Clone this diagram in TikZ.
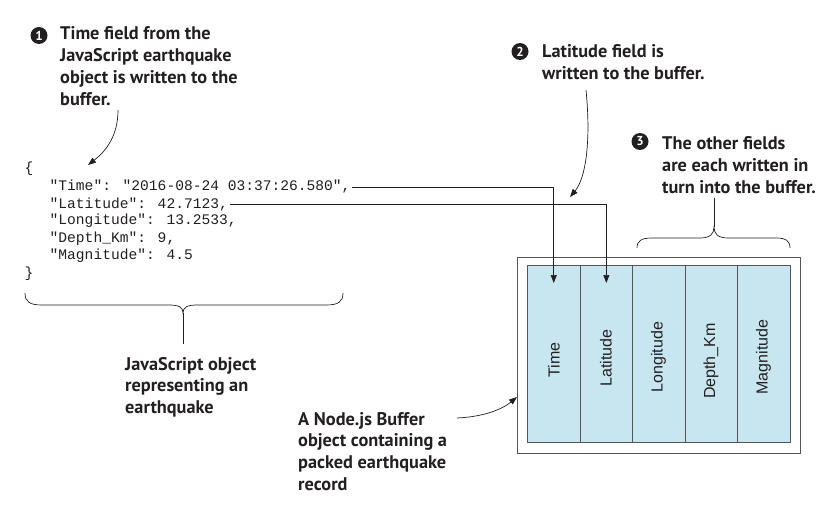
\documentclass[tikz,border=0pt]{standalone}
\usepackage{fontspec}
\setmainfont{PT Sans}
\newfontfamily\cellfont{Liberation Sans}
\newfontfamily\codefont{Liberation Mono}
\usetikzlibrary{arrows.meta}
\definecolor{ink}{HTML}{231F20}
\definecolor{cellblue}{HTML}{C8E6EF}
\definecolor{boxgray}{HTML}{555555}
\begin{document}
\begin{tikzpicture}[x=1pt,y=-1pt,
  note/.style={anchor=base west,inner sep=0pt,align=left,text=ink,
    font=\bfseries\fontsize{18.3}{21.7}\selectfont},
  num/.style={circle,fill=ink,text=white,inner sep=0pt,minimum size=17pt,
    font=\bfseries\fontsize{13}{13}\selectfont},
  code/.style={anchor=base west,inner sep=1.5pt,text=ink,
    font=\codefont\fontsize{14.6}{14.6}\selectfont},
  cellbox/.style={draw=boxgray,line width=0.9pt,fill=cellblue,minimum width=52.6pt,
    minimum height=177pt,inner sep=0pt,anchor=north west},
  celltext/.style={rotate=90,text=ink,font=\cellfont\fontsize{16}{16}\selectfont},
  arr/.style={draw=ink,line width=0.7pt,-{Stealth[length=8pt,width=6pt,inset=0pt]}},
  line/.style={draw=ink,line width=0.7pt}]
\useasboundingbox (0,0) rectangle (828,508);

% annotations (anchor = baseline of last line)
\node[num] (n1) at (39,35.5) {1};
\node[note] (t1) at (60,105.1) {Time field from the\\JavaScript earthquake\\object is written to the\\buffer.};
\node[num] (n2) at (520,51.5) {2};
\node[note] (t2) at (542,79.7) {Latitude field is\\written to the buffer.};
\node[num] (n3) at (640,141.5) {3};
\node[note] (t3) at (662,193.4) {The other fields\\are each written in\\turn into the buffer.};
\node[note] (t4) at (125,413.4) {JavaScript object\\representing an\\earthquake};
\node[note] (t5) at (298,490.1) {A Node.js Buffer\\object containing a\\packed earthquake\\record};

% JSON object
\node[code] (jo) at (23,173) {\{};
\node[code] (jtime) at (48,191) {"Time": "2016-08-24 03:37:26.580",};
\node[code] (jlat) at (48,208) {"Latitude": 42.7123,};
\node[code] (jlon) at (48,225) {"Longitude": 13.2533,};
\node[code] (jdep) at (48,242) {"Depth\_Km": 9,};
\node[code] (jmag) at (48,259) {"Magnitude": 4.5};
\node[code] (jc) at (23,277) {\}};

% buffer
\node[draw=boxgray,line width=1.3pt,minimum width=283pt,minimum height=196pt,inner sep=0pt,anchor=north west] (buf) at (517,257) {};
\node[cellbox] (ctime) at (527,265) {};
\node[cellbox] (clat) at (579.6,265) {};
\node[cellbox] (clon) at (632.2,265) {};
\node[cellbox] (cdep) at (684.8,265) {};
\node[cellbox] (cmag) at (737.4,265) {};
\node[celltext] (ltime) at (554,360) {Time};
\node[celltext] (llat) at (606,358) {Latitude};
\node[celltext] (llon) at (658.5,357) {Longitude};
\node[celltext] (ldep) at (711,361) {Depth\_Km};
\node[celltext] (lmag) at (763.5,357) {Magnitude};

% connectors from JSON fields to buffer cells
\path[arr] (jtime.east) -| ([yshift=-18pt]ctime.north);
\path[arr] (jlat.east) -| ([yshift=-18pt]clat.north);

% curved pointer arrows
\coordinate (a1s) at (118,110);
\coordinate (a1e) at (88,165);
\path[arr] (a1s) .. controls (118,136) and (106,151) .. (a1e);
\coordinate (a2s) at (586,90);
\coordinate (a2e) at (570,197);
\path[arr] (a2s) .. controls (591,140) and (586,178) .. (a2e);
\coordinate (a4s) at (457,418);
\path[arr] (a4s) .. controls (480,417) and (500,411) .. (buf.west |- 0,397);

% braces
\coordinate (b1tip) at (183,313);
\coordinate (b1stem) at (183,344);
\path[line] (25,293) .. controls (25,302) and (30,305) .. (42,305) -- (168,305)
  .. controls (179,305) and (183,307) .. (b1tip)
  .. controls (183,307) and (187,305) .. (198,305) -- (326,305)
  .. controls (338,305) and (343,302) .. (343,293);
\path[line] (b1tip) -- (b1stem);
\coordinate (b3tip) at (714,227);
\coordinate (b3stem) at (714,198);
\path[line] (637,248) .. controls (637,241) and (641,238) .. (652,238) -- (700,238)
  .. controls (710,238) and (714,234) .. (b3tip)
  .. controls (714,234) and (718,238) .. (728,238) -- (776,238)
  .. controls (786,238) and (790,241) .. (790,248);
\path[line] (b3tip) -- (b3stem);
\end{tikzpicture}
\end{document}
